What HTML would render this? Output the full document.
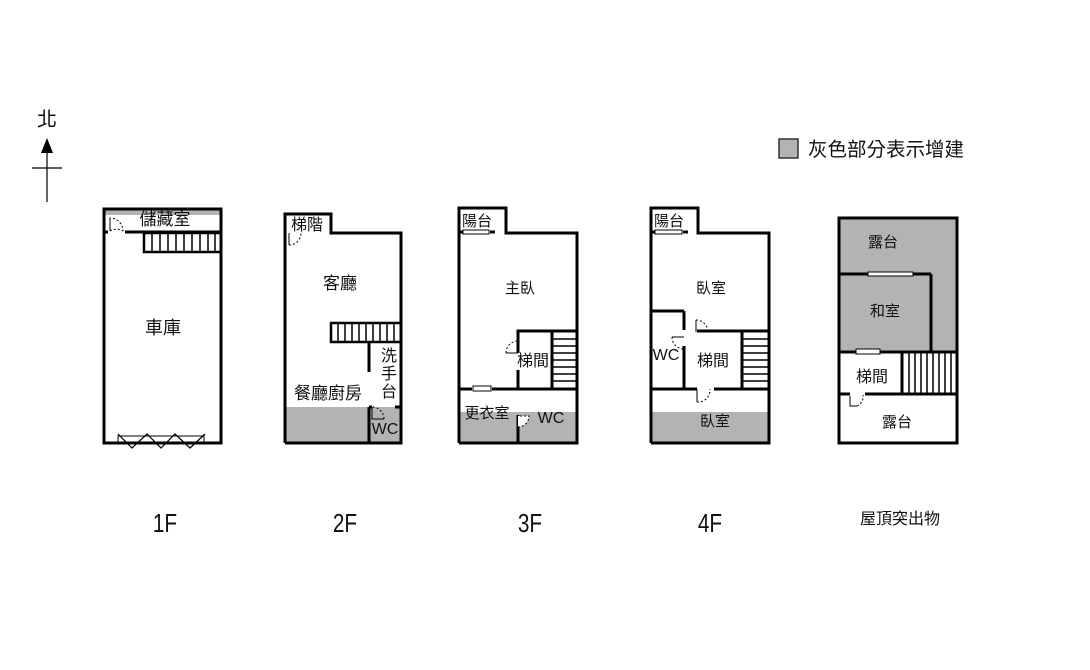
<!DOCTYPE html>
<html><head><meta charset="utf-8"><style>
html,body{margin:0;padding:0;background:#fff;}
svg{display:block;}
text{font-family:"Liberation Sans","Noto Sans CJK TC",sans-serif;fill:#111;}
</style></head><body>
<svg width="1090" height="670" viewBox="0 0 1090 670" xmlns="http://www.w3.org/2000/svg">
<rect width="1090" height="670" fill="#fff"/>
<!-- North -->
<text x="47" y="126" font-size="20" text-anchor="middle">北</text>
<polygon points="47,138 41,153 53,153" fill="#000"/>
<line x1="47" y1="150" x2="47" y2="202" stroke="#000" stroke-width="1.2"/>
<line x1="32" y1="168" x2="62" y2="168" stroke="#000" stroke-width="1.2"/>
<!-- Legend -->
<rect x="779" y="139" width="19" height="19" fill="#b3b3b3" stroke="#333" stroke-width="1.5"/>
<text x="808" y="156" font-size="19.5">灰色部分表示增建</text>

<g stroke="#000" stroke-width="3" fill="none">
<!-- 1F -->
<rect x="104" y="209" width="117" height="6" fill="#b3b3b3" stroke="none"/>
<rect x="104" y="209" width="117" height="234"/>
<line x1="125" y1="232" x2="221" y2="232"/>
<line x1="104" y1="232" x2="108" y2="232"/>
<rect x="144" y="233" width="77" height="19" stroke-width="2.5"/>
<!-- 2F -->
<rect x="285" y="407" width="84" height="36" fill="#b3b3b3" stroke="none"/>
<rect x="370" y="407" width="31" height="36" fill="#b3b3b3" stroke="none"/>
<polyline points="285,443 285,214 331,214 331,233 401,233 401,443 285,443"/>
<rect x="331" y="323" width="70" height="19" stroke-width="2.5"/>
<line x1="369" y1="342" x2="369" y2="372"/>
<line x1="369" y1="407" x2="369" y2="443"/>
<line x1="369" y1="407" x2="372" y2="407"/>
<line x1="395" y1="407" x2="401" y2="407"/>
<!-- 3F -->
<rect x="459" y="412" width="118" height="31" fill="#b3b3b3" stroke="none"/>
<polyline points="459,443 459,208 506,208 506,233 577,233 577,443 459,443"/>
<line x1="459" y1="389" x2="472" y2="389"/>
<line x1="492" y1="389" x2="577" y2="389"/>
<polyline points="518,353 518,331 577,331"/>
<line x1="518" y1="389" x2="518" y2="370"/>
<line x1="518" y1="415" x2="518" y2="443"/>
<line x1="552" y1="331" x2="552" y2="389"/>
<line x1="459" y1="232" x2="463" y2="232"/>
<line x1="490" y1="232" x2="495" y2="232"/>
<!-- 4F -->
<rect x="651" y="412" width="118" height="31" fill="#b3b3b3" stroke="none"/>
<polyline points="651,443 651,208 698,208 698,233 769,233 769,443 651,443"/>
<line x1="651" y1="311" x2="684" y2="311"/>
<line x1="684" y1="311" x2="684" y2="330"/>
<line x1="684" y1="346" x2="684" y2="389"/>
<line x1="697" y1="331" x2="769" y2="331"/>
<line x1="651" y1="389" x2="697" y2="389"/>
<line x1="714" y1="389" x2="769" y2="389"/>
<line x1="742" y1="331" x2="742" y2="389"/>
<line x1="651" y1="232" x2="655" y2="232"/>
<line x1="683" y1="232" x2="688" y2="232"/>
<!-- Roof -->
<rect x="839" y="218" width="118" height="134" fill="#b3b3b3" stroke="none"/>
<rect x="839" y="218" width="118" height="225"/>
<line x1="839" y1="274" x2="868" y2="274"/>
<line x1="913" y1="274" x2="931" y2="274"/>
<line x1="931" y1="274" x2="931" y2="352"/>
<line x1="839" y1="352" x2="856" y2="352"/>
<line x1="880" y1="352" x2="957" y2="352"/>
<line x1="902" y1="352" x2="902" y2="394"/>
<line x1="839" y1="394" x2="850" y2="394"/>
<line x1="865" y1="394" x2="957" y2="394"/>
</g>

<!-- stair treads -->
<g stroke="#000" stroke-width="1.5">
<line x1="152" y1="233" x2="152" y2="252"/><line x1="160" y1="233" x2="160" y2="252"/><line x1="168" y1="233" x2="168" y2="252"/><line x1="176" y1="233" x2="176" y2="252"/><line x1="184" y1="233" x2="184" y2="252"/><line x1="192" y1="233" x2="192" y2="252"/><line x1="200" y1="233" x2="200" y2="252"/><line x1="208" y1="233" x2="208" y2="252"/><line x1="215" y1="233" x2="215" y2="252"/>
<line x1="338" y1="323" x2="338" y2="342"/><line x1="345" y1="323" x2="345" y2="342"/><line x1="352" y1="323" x2="352" y2="342"/><line x1="359" y1="323" x2="359" y2="342"/><line x1="366" y1="323" x2="366" y2="342"/><line x1="373" y1="323" x2="373" y2="342"/><line x1="380" y1="323" x2="380" y2="342"/><line x1="387" y1="323" x2="387" y2="342"/><line x1="394" y1="323" x2="394" y2="342"/>
<line x1="552" y1="339" x2="577" y2="339"/><line x1="552" y1="346" x2="577" y2="346"/><line x1="552" y1="353" x2="577" y2="353"/><line x1="552" y1="360" x2="577" y2="360"/><line x1="552" y1="367" x2="577" y2="367"/><line x1="552" y1="374" x2="577" y2="374"/><line x1="552" y1="381" x2="577" y2="381"/>
<line x1="742" y1="339" x2="769" y2="339"/><line x1="742" y1="346" x2="769" y2="346"/><line x1="742" y1="353" x2="769" y2="353"/><line x1="742" y1="360" x2="769" y2="360"/><line x1="742" y1="367" x2="769" y2="367"/><line x1="742" y1="374" x2="769" y2="374"/><line x1="742" y1="381" x2="769" y2="381"/>
<line x1="909" y1="352" x2="909" y2="394"/><line x1="915" y1="352" x2="915" y2="394"/><line x1="921" y1="352" x2="921" y2="394"/><line x1="927" y1="352" x2="927" y2="394"/><line x1="933" y1="352" x2="933" y2="394"/><line x1="939" y1="352" x2="939" y2="394"/><line x1="945" y1="352" x2="945" y2="394"/><line x1="951" y1="352" x2="951" y2="394"/>
</g>

<!-- doors / windows -->
<g stroke="#000" stroke-width="1" fill="none">
<path d="M110,231 A13,13 0 0 1 123,231" stroke-dasharray="2,2"/><path d="M110,231 V218 A13,13 0 0 1 123,231" stroke-dasharray="2,2"/><line x1="110" y1="231" x2="110" y2="218"/>
<path d="M289,245 V233" /><path d="M289,245 A12,12 0 0 0 301,233" stroke-dasharray="2,2"/>
<path d="M372,407 V419 H384" /><path d="M384,419 A12,12 0 0 0 372,407" stroke-dasharray="2,2"/>
<path d="M518,353 H506 A12,12 0 0 1 518,341" stroke-dasharray="2,2"/><line x1="506" y1="353" x2="518" y2="353"/>
<path d="M518,427 A11,11 0 0 0 529,416 H518" stroke-dasharray="2,2" fill="#fff"/>
<rect x="473" y="386" width="18" height="5" fill="#fff"/>
<rect x="463" y="230" width="26" height="4" fill="#fff"/>
<rect x="655" y="230" width="27" height="4" fill="#fff"/>
<path d="M684,337 H672" /><path d="M672,337 A12,12 0 0 0 684,349" stroke-dasharray="2,2"/>
<path d="M696,332 V320" /><path d="M696,320 A12,12 0 0 1 708,332" stroke-dasharray="2,2"/>
<path d="M697,389 V402" /><path d="M697,402 A12,12 0 0 0 710,389" stroke-dasharray="2,2"/>
<rect x="868" y="272" width="45" height="4" fill="#fff"/>
<rect x="856" y="349" width="24" height="5" fill="#fff"/>
<path d="M850,396 V406 H857" /><path d="M857,406 A10,10 0 0 0 863,395" stroke-dasharray="2,2"/>
<rect x="118" y="436" width="86" height="6" fill="#fff"/>
<polyline points="118,434 132,448 147,434 161,448 175,434 190,448 205,434" stroke-width="1.2"/>
</g>

<!-- labels -->
<g font-size="16" text-anchor="middle">
<text x="165" y="225" font-size="17">儲藏室</text>
<text x="163" y="334" font-size="18">車庫</text>
<text x="307" y="230">梯階</text>
<text x="340" y="289" font-size="17">客廳</text>
<text x="328" y="399" font-size="17">餐廳廚房</text>
<text x="389" y="361">洗</text><text x="389" y="379">手</text><text x="389" y="397">台</text>
<text x="385" y="434">WC</text>
<text x="477" y="226" font-size="15">陽台</text>
<text x="520" y="293" font-size="15">主臥</text>
<text x="533" y="366">梯間</text>
<text x="487" y="418" font-size="15">更衣室</text>
<text x="551" y="423">WC</text>
<text x="669" y="226" font-size="15">陽台</text>
<text x="711" y="293" font-size="15">臥室</text>
<text x="666" y="360">WC</text>
<text x="713" y="366">梯間</text>
<text x="715" y="426" font-size="15">臥室</text>
<text x="883" y="247" font-size="15">露台</text>
<text x="885" y="316" font-size="15">和室</text>
<text x="872" y="382">梯間</text>
<text x="897" y="427" font-size="15">露台</text>
</g>
<g font-size="26" text-anchor="middle">
<text transform="translate(165,532) scale(0.8,1)">1F</text>
<text transform="translate(345,532) scale(0.8,1)">2F</text>
<text transform="translate(530,532) scale(0.8,1)">3F</text>
<text transform="translate(710,532) scale(0.8,1)">4F</text>
<text x="900" y="524" font-size="16">屋頂突出物</text>
</g>
</svg>
</body></html>
